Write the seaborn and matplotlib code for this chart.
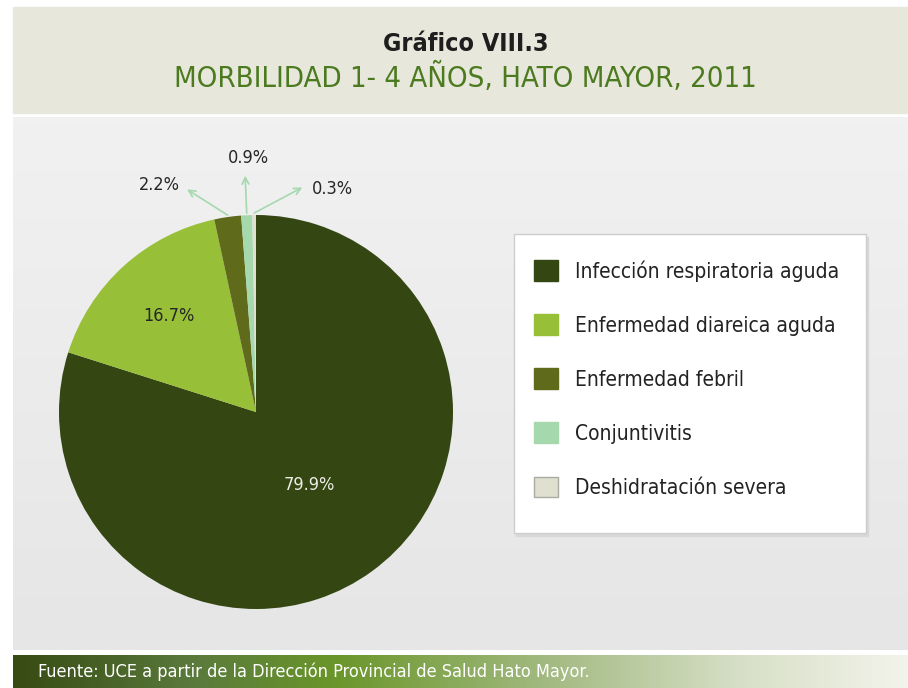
import seaborn as sns
import matplotlib.pyplot as plt
import numpy as np
from matplotlib.colors import LinearSegmentedColormap
from matplotlib.patches import Rectangle

# Chart data
categories = [
    "Infección respiratoria aguda",
    "Enfermedad diareica aguda",
    "Enfermedad febril",
    "Conjuntivitis",
    "Deshidratación severa",
]
percentages = [79.9, 16.7, 2.2, 0.9, 0.3]
slice_colors = ["#344712", "#97bf38", "#5f6a1a", "#a6d8ae", "#dfe0cf"]

title_text = "Gráfico VIII.3"
subtitle_text = "MORBILIDAD 1- 4 AÑOS, HATO MAYOR, 2011"
source_text = "Fuente: UCE a partir de la Dirección Provincial de Salud Hato Mayor."

W, H = 908, 688


def fx(px):
    return px / W


def fy(py):
    return 1 - py / H


def main():

    sns.set_theme(style="white")
    plt.rcParams["font.family"] = ["DejaVu Sans"]
    plt.rcParams["font.stretch"] = "condensed"

    fig = plt.figure(figsize=(W / 100, H / 100), dpi=100)
    fig.patch.set_facecolor("white")

    # --------------------------------
    # Background bands
    # --------------------------------

    fig.patches.append(Rectangle((fx(13), fy(113)), fx(W - 13), 106 / H,
                                 transform=fig.transFigure, color="#e7e7dc", zorder=0))

    panel = fig.add_axes([fx(13), fy(650), fx(W - 13), 533 / H], zorder=0)
    grad = np.linspace(0, 1, 100).reshape(-1, 1)
    panel.imshow(grad, aspect="auto", extent=(0, 1, 0, 1), origin="lower",
                 cmap=LinearSegmentedColormap.from_list("p", ["#e6e6e6", "#f1f1f1"]))
    panel.set_axis_off()

    footer = fig.add_axes([fx(13), 0, fx(W - 13), 33 / H], zorder=0)
    fgrad = np.linspace(0, 1, 300).reshape(1, -1)
    footer.imshow(fgrad, aspect="auto", extent=(0, 1, 0, 1),
                  cmap=LinearSegmentedColormap.from_list(
                      "f", [(0, "#374b12"), (0.2, "#5a7a3c"), (0.36, "#6a962a"),
                            (0.6, "#a3ba82"), (0.82, "#d8e0c8"), (1, "#f2f3ea")]))
    footer.set_axis_off()
    footer.text(0.028, 0.5, source_text, color="white", fontsize=13,
                va="center", ha="left", transform=footer.transAxes)

    # Titles
    fig.text(fx(466), fy(44), title_text, ha="center", va="center",
             fontsize=18, fontweight="bold", color="#1e1e1e")
    fig.text(fx(465), fy(78), subtitle_text, ha="center", va="center",
             fontsize=21, color="#4c7a1e")

    # --------------------------------
    # Pie
    # --------------------------------

    cx, cy, r = 256, 412, 197
    ax = fig.add_axes([fx(cx - r), fy(cy + r), 2 * r / W, 2 * r / H], zorder=2)
    wedges, _ = ax.pie(percentages, colors=slice_colors, startangle=90,
                       counterclock=False, radius=1,
                       wedgeprops=dict(linewidth=0))
    ax.set_xlim(-1, 1)
    ax.set_ylim(-1, 1)
    ax.set_axis_off()

    # big slices: labels inside
    inside = {0: (0.46, "#ecece4"), 1: (0.66, "#262626")}
    for i, (dist, col) in inside.items():
        w = wedges[i]
        ang = np.deg2rad((w.theta1 + w.theta2) / 2)
        ax.text(dist * np.cos(ang), dist * np.sin(ang), f"{percentages[i]}%",
                ha="center", va="center", fontsize=13, color=col)

    # small slices: arrows out to labels
    offsets = {2: ((-0.35, 1.13), (-0.49, 1.15)),
               3: ((-0.055, 1.2), (-0.04, 1.29)),
               4: ((0.235, 1.14), (0.39, 1.13))}
    for i, (tip, lab) in offsets.items():
        w = wedges[i]
        ang = np.deg2rad((w.theta1 + w.theta2) / 2)
        ax.annotate("", xy=tip, xytext=(np.cos(ang), np.sin(ang) + 0.01),
                    arrowprops=dict(arrowstyle="->", color="#a6d8ae", lw=1.2,
                                    shrinkA=0, shrinkB=0), annotation_clip=False)
        ax.text(lab[0], lab[1], f"{percentages[i]}%", ha="center", va="center",
                fontsize=13, color="#262626", clip_on=False)

    # --------------------------------
    # Legend box
    # --------------------------------

    fig.patches.append(Rectangle((fx(516), fy(536)), 352 / W, 299 / H,
                                 transform=fig.transFigure, color="#d8d8d8", zorder=1))
    fig.patches.append(Rectangle((fx(514), fy(533)), 352 / W, 299 / H,
                                 transform=fig.transFigure, facecolor="white",
                                 edgecolor="#cdcdcd", lw=1, zorder=1))

    edge = ["#344712", "#97bf38", "#5f6a1a", "#a6d8ae", "#a9aaa2"]
    handles = [Rectangle((0, 0), 1, 1, facecolor=c, edgecolor=e, lw=1)
               for c, e in zip(slice_colors, edge)]
    fig.legend(handles, categories, loc="upper left",
               bbox_to_anchor=(fx(534), fy(260)), bbox_transform=fig.transFigure,
               frameon=False, fontsize=15, handlelength=1.15, handleheight=1.15,
               handletextpad=0.8, labelspacing=1.57, borderpad=0, borderaxespad=0,
               labelcolor="#232323")

    plt.savefig("out.png", dpi=100)


if __name__ == "__main__":
    main()
